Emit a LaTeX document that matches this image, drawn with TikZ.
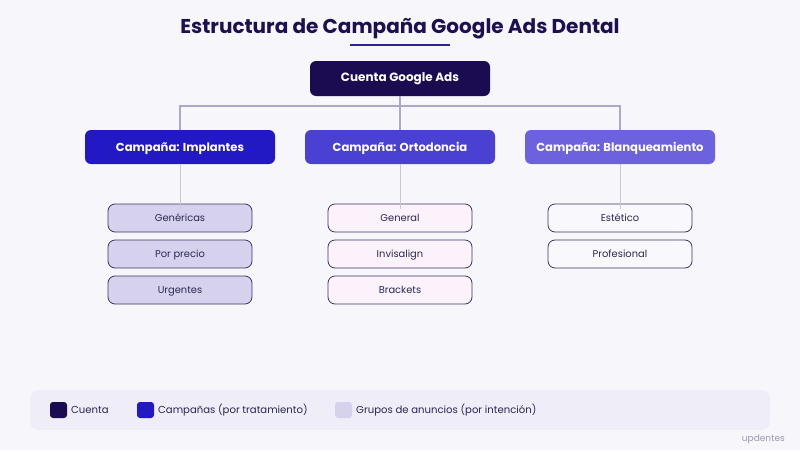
\documentclass[tikz,border=0pt]{standalone}
\usepackage{fontspec}
\setmainfont{Poppins}
\definecolor{bg}{HTML}{F7F6FB}
\definecolor{navy}{HTML}{1B0B50}
\definecolor{titlec}{HTML}{1E1050}
\definecolor{ulc}{HTML}{2E2490}
\definecolor{campA}{HTML}{2218C4}
\definecolor{campB}{HTML}{4A40D2}
\definecolor{campC}{HTML}{6C62DE}
\definecolor{grpA}{HTML}{D6D2EE}
\definecolor{grpB}{HTML}{FCF2FC}
\definecolor{grpC}{HTML}{F9F8FD}
\definecolor{grpborder}{HTML}{3A3660}
\definecolor{linec}{HTML}{ABA9C6}
\definecolor{thinline}{HTML}{C8C6D8}
\definecolor{legbg}{HTML}{EFEDF7}
\definecolor{legtext}{HTML}{2A2850}
\definecolor{foot}{HTML}{9A98B0}
\begin{document}
\begin{tikzpicture}[x=1pt,y=-1pt,
  rootbox/.style={draw=none,fill=navy,rounded corners=6pt,minimum width=180pt,minimum height=35pt,text=white,font=\fontsize{12}{14}\selectfont\bfseries,inner sep=0pt},
  campbox/.style={draw=none,rounded corners=6pt,minimum width=190pt,minimum height=34pt,text=white,font=\fontsize{11.6}{14}\selectfont\bfseries,inner sep=0pt,text height=11pt,text depth=2.5pt},
  grpbox/.style={draw=grpborder,line width=0.8pt,rounded corners=7pt,minimum width=144pt,minimum height=28pt,text=legtext,font=\fontsize{9.9}{12}\selectfont,inner sep=0pt,text height=9.5pt,text depth=2pt},
  conn/.style={draw=linec,line width=2pt},
  thin/.style={draw=thinline,line width=1pt},
  legsq/.style={rounded corners=3pt,minimum width=17pt,minimum height=16pt,inner sep=0pt},
  legtxt/.style={anchor=west,text=legtext,font=\fontsize{10.1}{12}\selectfont,inner sep=0pt}
]
\fill[bg] (0,0) rectangle (800,450);
\useasboundingbox (0,0) rectangle (800,450);
\node[text=titlec,font=\fontsize{20}{24}\selectfont\bfseries] (title) at (400,29) {Estructura de Campaña Google Ads Dental};
\draw[ulc,line width=2pt] (350,45) -- (450,45);
\node[rootbox] (root) at (400,78.5) {Cuenta Google Ads};
\node[campbox,fill=campA] (c1) at (180,147) {Campaña: Implantes};
\node[campbox,fill=campB] (c2) at (400,147) {Campaña: Ortodoncia};
\node[campbox,fill=campC] (c3) at (620,147) {Campaña: Blanqueamiento};
\coordinate (j1) at (180,106);
\coordinate (j2) at (400,106);
\coordinate (j3) at (620,106);
\draw[conn] (root.south) -- (j2);
\draw[conn] (c1.north) -- (j1) -- (j3) -- (c3.north);
\draw[conn] (j2) -- (c2.north);
\node[grpbox,fill=grpA] (g11) at (180,218) {Genéricas};
\node[grpbox,fill=grpA] (g12) at (180,254) {Por precio};
\node[grpbox,fill=grpA] (g13) at (180,290) {Urgentes};
\node[grpbox,fill=grpB] (g21) at (400,218) {General};
\node[grpbox,fill=grpB] (g22) at (400,254) {Invisalign};
\node[grpbox,fill=grpB] (g23) at (400,290) {Brackets};
\node[grpbox,fill=grpC] (g31) at (620,218) {Estético};
\node[grpbox,fill=grpC] (g32) at (620,254) {Profesional};
\draw[thin] (c1.south) -- ([yshift=-5pt]g11.north);
\draw[thin] (c2.south) -- ([yshift=-5pt]g21.north);
\draw[thin] (c3.south) -- ([yshift=-5pt]g31.north);
\node[fill=legbg,rounded corners=8pt,minimum width=740pt,minimum height=40pt,inner sep=0pt] (legend) at (400,410) {};
\node[legsq,fill=navy] (s1) at (58.5,410) {};
\node[legtxt] (t1) at (71,410) {Cuenta};
\node[legsq,fill=campA] (s2) at (145.5,410) {};
\node[legtxt] (t2) at (158,410) {Campañas (por tratamiento)};
\node[legsq,fill=grpA] (s3) at (343.5,410) {};
\node[legtxt] (t3) at (356,410) {Grupos de anuncios (por intención)};
\node[anchor=east,text=foot,font=\fontsize{9}{11}\selectfont,inner sep=0pt] (brand) at (785,439) {updentes};
\end{tikzpicture}
\end{document}
